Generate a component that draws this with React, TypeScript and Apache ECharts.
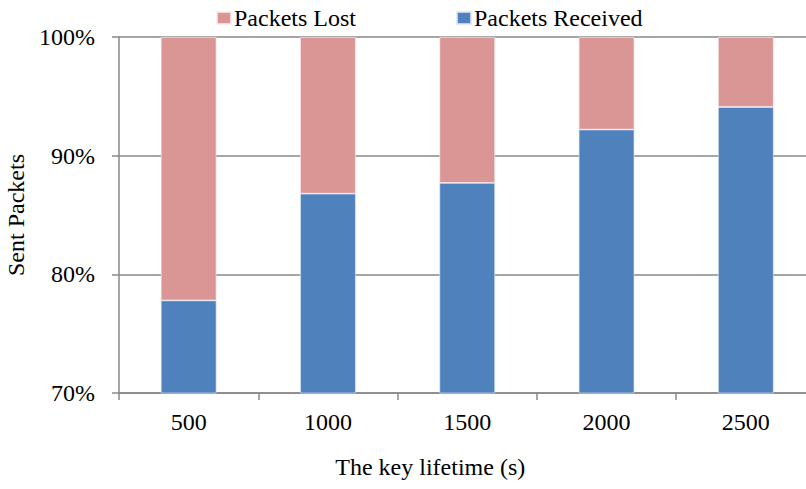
import React, { useEffect, useRef } from "react";
import * as echarts from "echarts";

const categories = ["500", "1000", "1500", "2000", "2500"];
const packetsReceived = [77.8, 86.8, 87.7, 92.2, 94.1];
const packetsLost = [22.2, 13.2, 12.3, 7.8, 5.9];
const seriesNames = ["Packets Lost", "Packets Received"];

const FONT = "'Liberation Serif', 'Times New Roman', serif";

export default function App() {
  const ref = useRef<HTMLDivElement>(null);
  useEffect(() => {
    if (!ref.current) return;
    const chart = echarts.init(ref.current, null, { renderer: "svg" });
    const axisColor = "#888888";
    chart.setOption({
      animation: false,
      textStyle: { fontFamily: FONT, color: "#000" },
      legend: {
        data: seriesNames,
        top: 1,
        left: 211,
        itemWidth: 14,
        itemHeight: 12,
        itemGap: 100,
        icon: "rect",
        textStyle: { fontFamily: FONT, fontSize: 24, color: "#000", padding: [0, 0, 0, -2] },
      },
      grid: {
        left: 119,
        top: 37,
        width: 696.5,
        height: 356,
        containLabel: false,
        outerBoundsMode: "none",
      },
      xAxis: {
        type: "category",
        data: categories,
        name: "The key lifetime (s)",
        nameLocation: "middle",
        nameGap: 62,
        nameTextStyle: { fontFamily: FONT, fontSize: 24, color: "#000", padding: [0, 74, 0, 0] },
        axisLine: { lineStyle: { color: axisColor, width: 1.5 } },
        axisTick: { show: true, length: 7, inside: false, lineStyle: { color: axisColor, width: 1.5 } },
        axisLabel: { fontFamily: FONT, fontSize: 24, color: "#000", margin: 17 },
      },
      yAxis: {
        type: "value",
        min: 70,
        max: 100,
        interval: 10,
        name: "Sent Packets",
        nameLocation: "middle",
        nameGap: 89,
        nameRotate: 90,
        nameTextStyle: { fontFamily: FONT, fontSize: 24, color: "#000" },
        axisLine: { show: true, lineStyle: { color: axisColor, width: 1.5 } },
        axisTick: { show: true, length: 7, lineStyle: { color: axisColor, width: 1.5 } },
        axisLabel: {
          fontFamily: FONT,
          fontSize: 24,
          color: "#000",
          margin: 24,
          formatter: (v: number) => `${v}%`,
        },
        splitLine: { show: true, lineStyle: { color: axisColor, width: 1.5 } },
      },
      series: [
        {
          name: "Packets Received",
          type: "bar",
          stack: "total",
          data: packetsReceived,
          barWidth: "40%",
          itemStyle: { color: "#4f81bd", borderColor: "rgba(220,230,245,0.8)", borderWidth: 0.8 },
        },
        {
          name: "Packets Lost",
          type: "bar",
          stack: "total",
          data: packetsLost,
          barWidth: "40%",
          itemStyle: { color: "#d99694", borderColor: "rgba(250,235,235,0.8)", borderWidth: 0.8 },
        },
      ],
    });
    return () => chart.dispose();
  }, []);
  return (
    <div
      ref={ref}
      style={{ position: "fixed", left: 0, top: 0, width: 806, height: 489, background: "#fff" }}
    />
  );
}
